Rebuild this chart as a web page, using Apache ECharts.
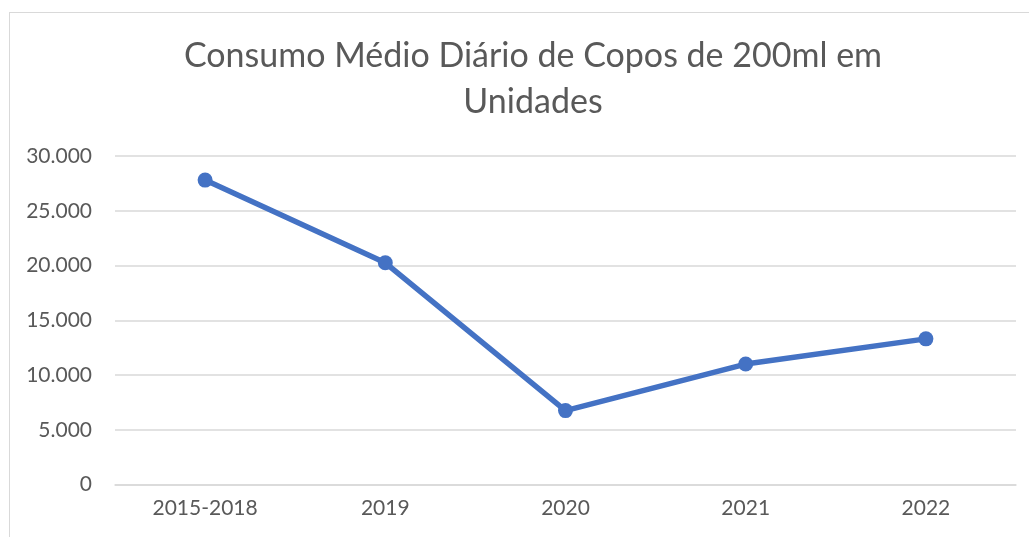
<!DOCTYPE html>
<html><head><meta charset="utf-8">
<script src="https://cdn.jsdelivr.net/npm/echarts@6/dist/echarts.min.js"></script>
<style>html,body{margin:0;padding:0;background:#fff;}#frame{position:absolute;left:9px;top:12px;width:1040px;height:560px;border:1px solid #d9d9d9;box-sizing:border-box;}#c{position:absolute;left:0;top:0;width:1029px;height:537px;}</style>
</head><body><div id="frame"></div><div id="c"></div>
<script>
const titleText = 'Consumo Médio Diário de Copos de 200ml em\nUnidades';
const categories = ['2015-2018', '2019', '2020', '2021', '2022'];
const values = [27800, 20250, 6750, 11000, 13300];
const chart = echarts.init(document.getElementById('c'));
chart.setOption({
  animation: false,
  title: {text: titleText, left: 528, top: 28, textAlign: 'center',
    textStyle: {fontFamily: 'Lato', fontSize: 34, fontWeight: 'normal', color: '#595959', lineHeight: 46}},
  grid: {left: 115, right: 13, top: 156, bottom: 52.5},
  xAxis: {type: 'category', data: categories, boundaryGap: true,
    axisLine: {lineStyle: {color: '#d9d9d9', width: 1.5}}, axisTick: {show: false},
    axisLabel: {fontFamily: 'Lato', fontSize: 21, color: '#595959', margin: 13}},
  yAxis: {type: 'value', min: 0, max: 30000, interval: 5000,
    axisLine: {show: false}, axisTick: {show: false},
    splitLine: {lineStyle: {color: '#d9d9d9', width: 1.5}},
    axisLabel: {fontFamily: 'Lato', fontSize: 21, color: '#595959', margin: 23,
      formatter: v => v === 0 ? '0' : v.toLocaleString('de-DE')}},
  series: [{type: 'line', data: values, symbol: 'circle', symbolSize: 15,
    lineStyle: {color: '#4472C4', width: 5.5}, itemStyle: {color: '#4472C4'}}]
});
</script></body></html>
